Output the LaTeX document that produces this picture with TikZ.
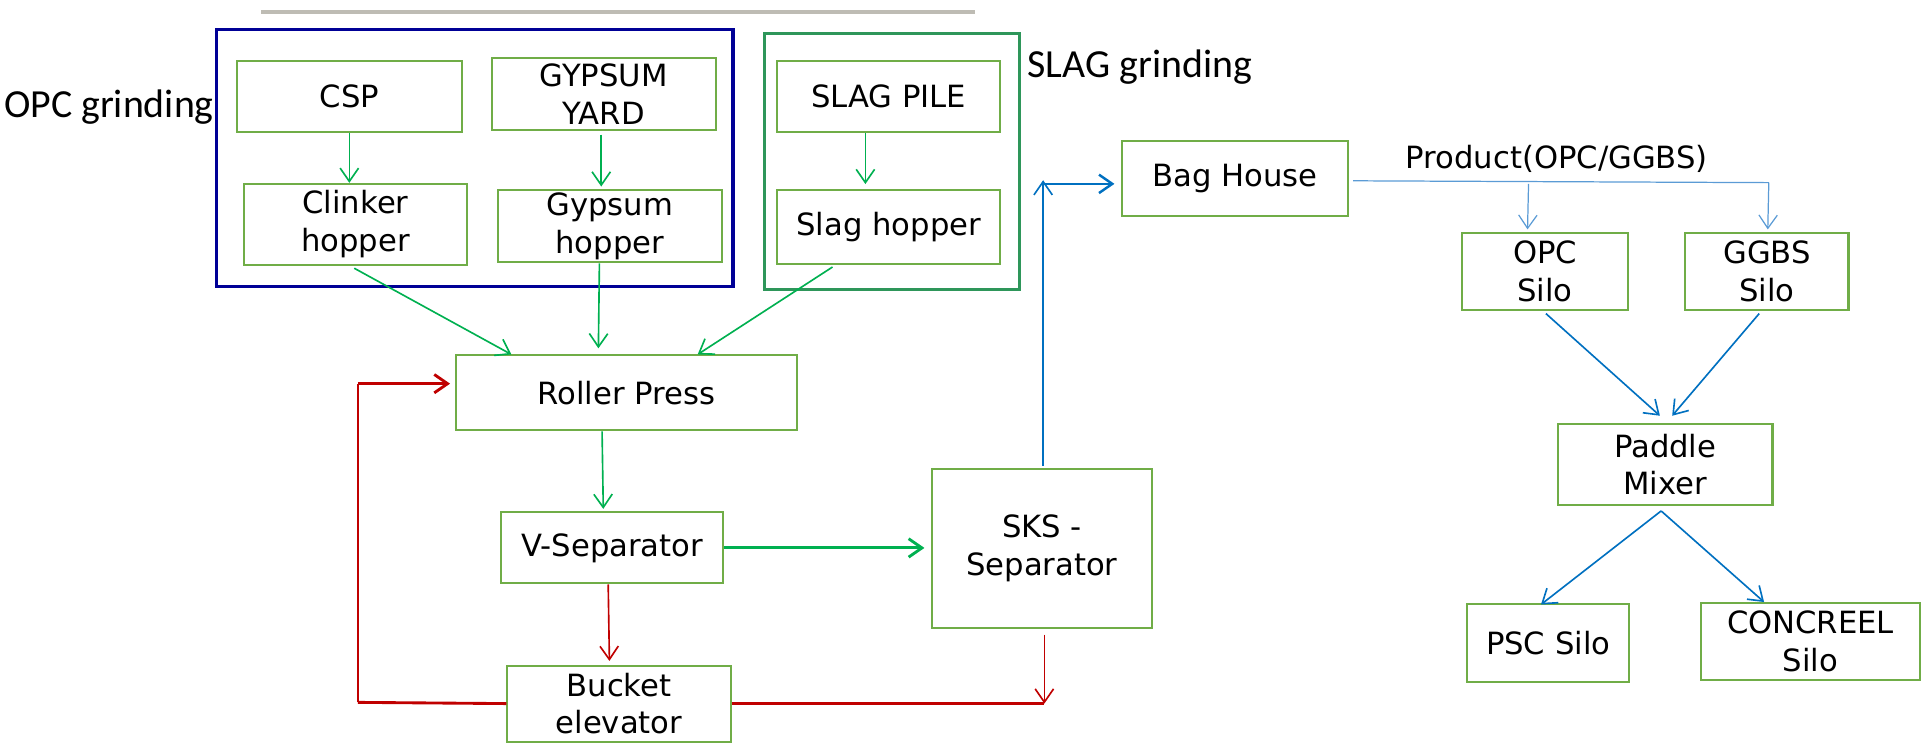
\documentclass[tikz,border=0pt]{standalone}
\usepackage{fontspec}
\setmainfont{DejaVu Sans}
\newfontfamily\labfont{Carlito}
\usetikzlibrary{arrows.meta,calc}
\definecolor{boxgreen}{RGB}{112,173,71}
\definecolor{arrgreen}{RGB}{0,176,80}
\definecolor{arrred}{RGB}{192,0,0}
\definecolor{arrblue}{RGB}{0,112,192}
\definecolor{lightblue}{RGB}{91,155,213}
\definecolor{navyfr}{RGB}{0,0,150}
\definecolor{seagr}{RGB}{46,150,90}
\definecolor{graybar}{RGB}{190,188,180}
\begin{document}
\begin{tikzpicture}[x=0.6pt,y=-0.6pt,
  box/.style={draw=boxgreen,line width=1pt,align=center,inner sep=0pt,font=\fontsize{15}{18.5}\selectfont},
  wh/.style 2 args={minimum width=#1*0.6pt,minimum height=#2*0.6pt},
  frame/.style={line width=1.5pt,inner sep=0pt},
  lab/.style={font=\labfont\fontsize{19.5}{22}\selectfont,inner sep=0pt},
  tip/.style={-{Straight Barb[length=6.5pt,width=9pt]}},
  ga/.style={draw=arrgreen,line width=0.8pt,tip},
  ra/.style={draw=arrred,line width=0.8pt,tip},
  rl/.style={draw=arrred,line width=1.4pt},
  ba/.style={draw=arrblue,line width=0.8pt,tip},
  lba/.style={draw=lightblue,line width=0.6pt,tip}]
\useasboundingbox (0,0) rectangle (1568,607);

% top gray bar
\draw[graybar,line width=1.8pt] (213,10) -- (795,10);

% group frames
\node[frame,draw=navyfr,wh={421}{210}] (opcg) at (387.5,129) {};
\node[frame,draw=seagr,wh={208}{209}] (slagg) at (728,131.5) {};
\node[lab,anchor=west] (opcl) at (3,87) {OPC grinding};
\node[lab,anchor=west] (slagl) at (838,55) {SLAG grinding};

% boxes
\node[box,wh={184}{58}] (csp) at (285,79) {CSP};
\node[box,wh={183}{59}] (gy) at (492.5,76.5) {GYPSUM\\YARD};
\node[box,wh={182}{66}] (ch) at (290,183) {Clinker\\hopper};
\node[box,wh={183}{59}] (gh) at (497.5,184.5) {Gypsum\\hopper};
\node[box,wh={182}{58}] (sp) at (725,79) {SLAG PILE};
\node[box,wh={182}{60}] (sh) at (725,185) {Slag hopper};
\node[box,wh={278}{61}] (rp) at (511,320.5) {Roller Press};
\node[box,wh={181}{58}] (vs) at (499.5,447) {V-Separator};
\node[box,wh={180}{129}] (sks) at (850,447.5) {SKS -\\Separator};
\node[box,wh={182}{62}] (be) at (505,574) {Bucket\\elevator};
\node[box,wh={185}{61}] (bh) at (1007.5,145.5) {Bag House};
\node[box,wh={135}{63}] (os) at (1260.5,221.5) {OPC\\Silo};
\node[box,wh={133}{63}] (gs) at (1441.5,221.5) {GGBS\\Silo};
\node[box,wh={175}{66}] (pm) at (1358.5,379) {Paddle\\Mixer};
\node[box,wh={132}{63}] (ps) at (1263,524.5) {PSC Silo};
\node[box,wh={178}{63}] (cs) at (1477,523.5) {CONCREEL\\Silo};

\node[inner sep=0pt,font=\fontsize{15}{18}\selectfont] (prod) at (1270,130) {Product(OPC/GGBS)};

% green connectors
\draw[ga] (csp.south) -- (csp.south |- ch.north);
\draw[ga] ($(gy.south)+(-2,3)$) -- ($(gy.south |- gh.north)+(-2,-2)$);
\draw[ga] ($(sp.south)+(-19,0)$) -- ($(sh.north)+(-19,-4)$);
\draw[ga] ($(ch.south)+(-1,2)$) -- ($(rp.north west)+(46,0)$);
\draw[ga] ($(gh.south)+(-8.5,0)$) -- ($(rp.north west)+(117,-5)$);
\draw[ga] ($(sh.south west)+(46,2)$) -- ($(rp.north west)+(198,0)$);
\draw[ga] ($(rp.south west)+(120,0)$) -- ($(vs.north west)+(84,-2)$);
\draw[draw=arrgreen,line width=1.4pt,tip,shorten >=3pt] (vs.east) -- (vs.east -| sks.west);

% red connectors
\coordinate (rbl) at (292,573);
\coordinate (rtl) at (292,313);
\coordinate (rbr) at (852,574);
\draw[ra] ($(vs.south west)+(88,0)$) -- ($(be.north west)+(84,-3)$);
\draw[rl] (be.west) -- (rbl);
\draw[draw=arrred,line width=0.8pt] (rbl) -- (rtl);
\draw[draw=arrred,line width=1.4pt,tip] (rtl) -- ($(rp.west)+(-4,-7.5)$);
\draw[rl] (be.east) -- (rbr);
\draw[ra] ($(sks.south)+(2,5)$) -- (rbr);

% blue connectors
\coordinate (bu) at (851,150);
\draw[ba] ($(sks.north)+(1,-2)$) -- ($(bu)+(0,-3)$);
\draw[draw=arrblue,line width=1.2pt,tip,shorten >=3pt] (bu) -- (bu -| bh.west);
\coordinate (pj) at (1443,149);
\draw[draw=lightblue,line width=0.6pt] ($(bh.east)+(3,2)$) -- (pj);
\draw[lba] (1247,150) -- ($(os.north west)+(54,-2)$);
\draw[lba] (pj) -- ($(gs.north west)+(68,-2)$);
\draw[ba] ($(os.south west)+(69,2)$) -- ($(pm.north west)+(84,-6)$);
\draw[ba] ($(gs.south west)+(61,2)$) -- ($(pm.north west)+(94,-6)$);
\coordinate (pmb) at ($(pm.south west)+(85,4)$);
\draw[ba] (pmb) -- ($(ps.north west)+(61,1)$);
\draw[ba] (pmb) -- ($(cs.north west)+(52,0)$);
\end{tikzpicture}
\end{document}
